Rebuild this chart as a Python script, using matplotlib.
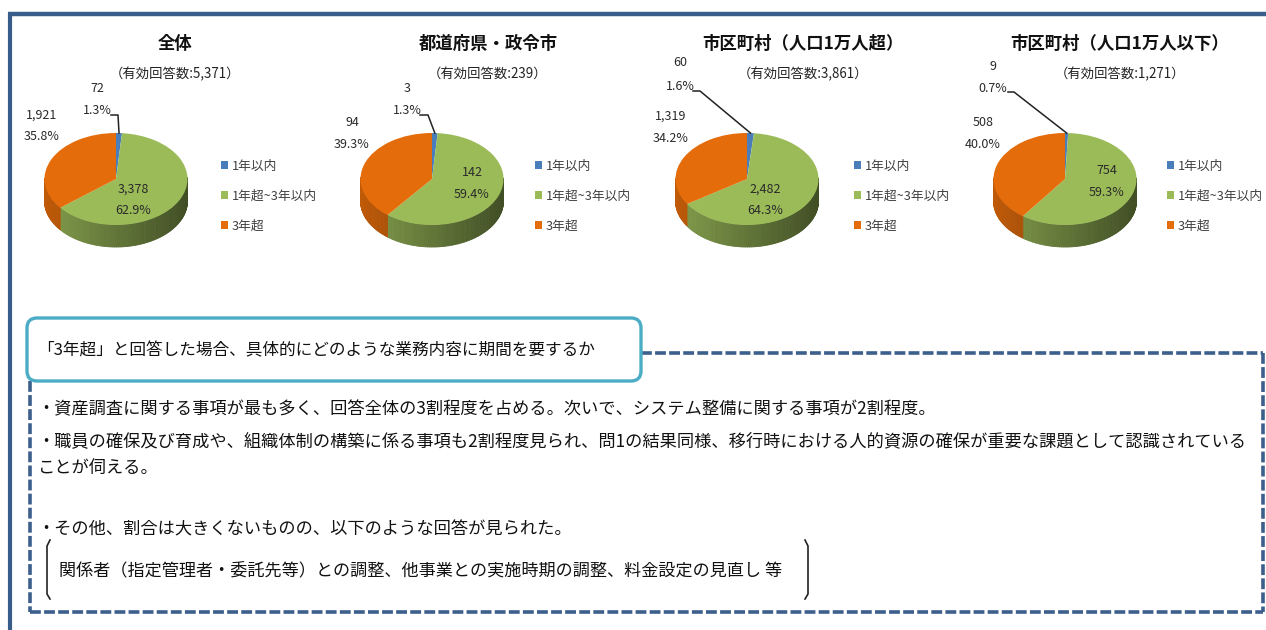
"""Survey result: four 3D-style pies plus a text summary box."""

import matplotlib
matplotlib.use("Agg")
import matplotlib.pyplot as plt
import numpy as np
from matplotlib.collections import PolyCollection
from matplotlib.patches import FancyBboxPatch
from matplotlib.colors import to_rgb

plt.rcParams["font.family"] = ["Noto Sans CJK JP", "DejaVu Sans"]

W, H = 1266, 630

categories = ["1年以内", "1年超~3年以内", "3年超"]
panel_titles = ["全体", "都道府県・政令市", "市区町村（人口1万人超）", "市区町村（人口1万人以下）"]
totals = [5371, 239, 3861, 1271]
counts_within_1y = [72, 3, 60, 9]
counts_1y_to_3y = [3378, 142, 2482, 754]
counts_over_3y = [1921, 94, 1319, 508]
pct_within_1y = [1.3, 1.3, 1.6, 0.7]
pct_1y_to_3y = [62.9, 59.4, 64.3, 59.3]
pct_over_3y = [35.8, 39.3, 34.2, 40.0]

colors = ["#4a7ebb", "#9bbb59", "#e46c0a"]

header = "「3年超」と回答した場合、具体的にどのような業務内容に期間を要するか"
body_lines = [
    "・資産調査に関する事項が最も多く、回答全体の3割程度を占める。次いで、システム整備に関する事項が2割程度。",
    "・職員の確保及び育成や、組織体制の構築に係る事項も2割程度見られ、問1の結果同様、移行時における人的資源の確保が重要な課題として認識されている",
    "ことが伺える。",
    "・その他、割合は大きくないものの、以下のような回答が見られた。",
]
bracket_note = "関係者（指定管理者・委託先等）との調整、他事業との実施時期の調整、料金設定の見直し 等"

# layout (pixels)
pie_cx = [116, 432, 747, 1065]
pie_cy = 179
rx, ry, depth = 71.5, 46, 22
title_cx = [175, 488, 803, 1120]
legend_x = [221, 535, 854, 1167]
# label positions: small slice (x, y of two lines), big orange, green inside
small_lbl = [(97, 88, 111), (407, 88, 111), (680, 63, 87), (993, 66, 89)]
leader_start = [(111, 115), (420, 115), (693, 91), (1008, 92)]
leader_knee = [(118, 115), (428, 115), (700, 91), (1014, 92)]
orange_lbl = [(42, 115, 137), (352, 122, 144), (671, 116, 138), (983, 122, 144)]
green_lbl = [(133, 189, 211), (472, 172, 194), (765, 189, 211), (1107, 171, 193)]


def shade(c, f):
    r, g, b = to_rgb(c)
    return (r * f, g * f, b * f)


fig = plt.figure(figsize=(W / 100, H / 100), dpi=100)
fig.patch.set_facecolor("white")

bg = fig.add_axes([0, 0, 1, 1])
bg.set_xlim(0, W)
bg.set_ylim(H, 0)
bg.axis("off")

# outer frame
bg.plot([8, W], [14, 14], color="#385d8a", lw=3.2, solid_capstyle="butt")
bg.plot([9.5, 9.5], [12.5, H], color="#385d8a", lw=3.0, solid_capstyle="butt")

for i in range(4):
    vals = [counts_within_1y[i], counts_1y_to_3y[i], counts_over_3y[i]]
    pcts = [pct_within_1y[i], pct_1y_to_3y[i], pct_over_3y[i]]
    cx = pie_cx[i]
    x0, x1 = cx - 1.3 * rx, cx + 1.3 * rx
    ytop, ybot = pie_cy - 1.3 * ry, pie_cy + ry + depth + 10
    ax = fig.add_axes([x0 / W, 1 - ybot / H, (x1 - x0) / W, (ybot - ytop) / H])

    # side wall of the pie, shaded left-to-right
    fr = np.array(vals, dtype=float) / sum(vals)
    edges = 90 - 360 * np.concatenate([[0], np.cumsum(fr)])
    d = depth / ry
    polys, pcols = [], []
    for k in range(3):
        a_hi, a_lo = edges[k], edges[k + 1]
        ts = np.linspace(a_lo, a_hi, max(int((a_hi - a_lo) / 1.5), 2))
        for t1, t2 in zip(ts[:-1], ts[1:]):
            tm = np.deg2rad((t1 + t2) / 2)
            if np.sin(tm) > 0.02:
                continue
            r1, r2 = np.deg2rad(t1), np.deg2rad(t2)
            polys.append([(np.cos(r1), np.sin(r1)), (np.cos(r2), np.sin(r2)),
                          (np.cos(r2), np.sin(r2) - d), (np.cos(r1), np.sin(r1) - d)])
            f = 0.84 - 0.42 * (np.cos(tm) + 1) / 2
            pcols.append(shade(colors[k], f))
    ax.add_collection(PolyCollection(polys, facecolors=pcols, edgecolors=pcols, linewidths=0.6))

    wedges, _ = ax.pie(vals, colors=colors, startangle=90, counterclock=False,
                       radius=1, wedgeprops=dict(linewidth=0))
    ax.set_aspect("auto")
    ax.set_xlim(-1.3, 1.3)
    ax.set_ylim(-(ry + depth + 10) / ry, 1.3)
    ax.axis("off")

    bg.text(title_cx[i], 44, panel_titles[i], ha="center", va="center",
            fontsize=12.5, fontweight="bold", color="#111111")
    bg.text(title_cx[i], 74, f"（有効回答数:{totals[i]:,}）", ha="center", va="center",
            fontsize=9.6, color="#222222")

    leg = ax.legend(wedges, categories, loc="center left",
                    bbox_to_anchor=(legend_x[i] / W, 1 - 196 / H), bbox_transform=fig.transFigure,
                    frameon=False, fontsize=9.2, handlelength=0.55, handleheight=0.55,
                    handletextpad=0.3, labelspacing=1.32, borderpad=0, borderaxespad=0)
    for t in leg.get_texts():
        t.set_color("#404040")

    lbl = dict(ha="center", va="center", fontsize=9, color="#2a2a2a", zorder=10)
    sx, sy1, sy2 = small_lbl[i]
    bg.text(sx, sy1, f"{vals[0]:,}", **lbl)
    bg.text(sx, sy2, f"{pcts[0]:.1f}%", **lbl)
    ox, oy1, oy2 = orange_lbl[i]
    bg.text(ox, oy1, f"{vals[2]:,}", **lbl)
    bg.text(ox, oy2, f"{pcts[2]:.1f}%", **lbl)
    gx, gy1, gy2 = green_lbl[i]
    bg.text(gx, gy1, f"{vals[1]:,}", **lbl)
    bg.text(gx, gy2, f"{pcts[1]:.1f}%", **lbl)

    mid = np.deg2rad((edges[0] + edges[1]) / 2)
    tip = (cx + rx * np.cos(mid), pie_cy - ry * np.sin(mid))
    path = [leader_start[i], leader_knee[i], tip]
    bg.plot([p[0] for p in path], [p[1] for p in path], color="#222222", lw=1.1, zorder=9)

# bring annotation layer to front
bg.set_zorder(5)
bg.patch.set_visible(False)

# dashed summary box
dash = dict(color="#3c5f8c", lw=2.6, linestyle=(0, (3.0, 0.9)), solid_capstyle="butt")
bg.plot([641, 1263], [353, 353], **dash)
bg.plot([1263, 1263], [353, 612], **dash)
bg.plot([30, 1263], [612, 612], **dash)
bg.plot([30, 30], [381, 612], **dash)

hdr_box = FancyBboxPatch((27, 318), 614, 63, boxstyle="round,pad=0,rounding_size=10",
                         facecolor="white", edgecolor="#4bacc6", linewidth=2.4, zorder=6)
bg.add_patch(hdr_box)
bg.text(37, 351, header, ha="left", va="center", fontsize=12, color="#111111", zorder=7)

body_y = [409, 441, 468, 529]
for y, line in zip(body_y, body_lines):
    bg.text(37, y, line, ha="left", va="center", fontsize=12.4, color="#111111")
bg.text(59, 571, bracket_note, ha="left", va="center", fontsize=12.3, color="#111111")

# brackets around the note
bg.plot([50, 47, 47, 50], [540, 546, 594, 599], color="#222222", lw=1.2)
bg.plot([805, 808, 808, 805], [540, 546, 594, 599], color="#222222", lw=1.2)

fig.savefig("out.png", dpi=100)
